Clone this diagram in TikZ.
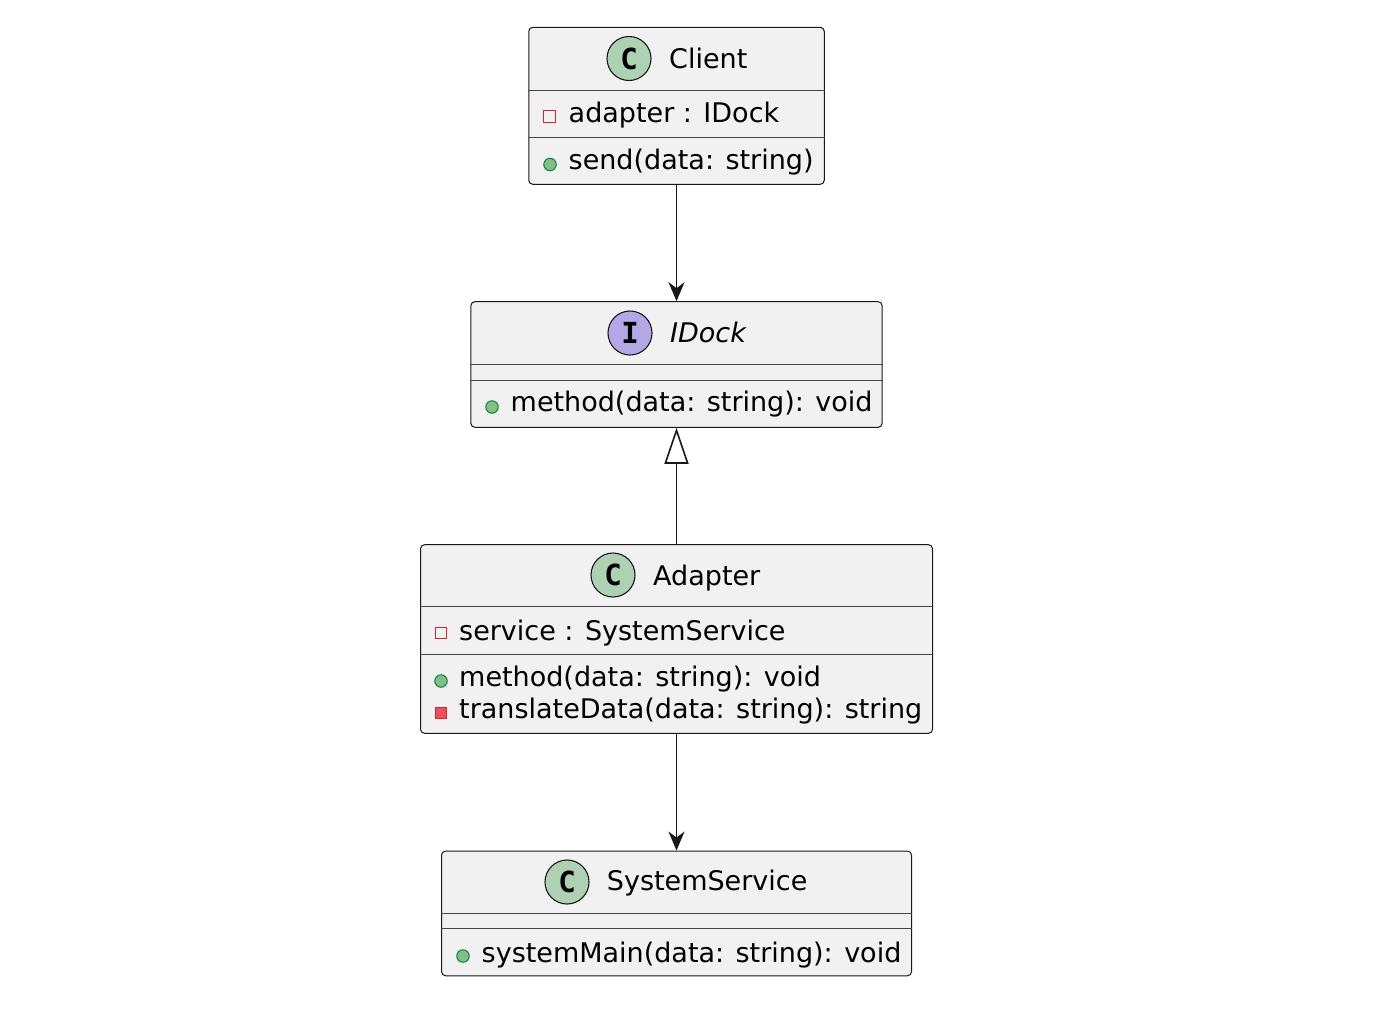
\documentclass[tikz,border=0pt]{standalone}
\usepackage{fontspec}
\setmainfont{DejaVu Sans}
\newfontfamily\spotfont{DejaVu Sans Mono}
\usepackage{xcolor}
\usetikzlibrary{arrows.meta}

\definecolor{boxfill}{HTML}{F1F1F1}
\definecolor{boxline}{HTML}{181818}
\definecolor{spotgreen}{HTML}{ADD1B2}
\definecolor{spotviolet}{HTML}{B4A7E5}
\definecolor{privline}{HTML}{C82930}
\definecolor{privfill}{HTML}{F24D5C}
\definecolor{publine}{HTML}{038048}
\definecolor{pubfill}{HTML}{84BE84}

\tikzset{
  umlbox/.style={draw=boxline, fill=boxfill, line width=1pt, rounded corners=4pt, inner sep=0pt},
  sepline/.style={draw=boxline!80, line width=0.9pt},
  spot/.style={circle, draw=boxline, line width=1.1pt, minimum size=44pt, inner sep=0pt,
    font=\spotfont\bfseries\fontsize{29}{29}\selectfont},
  umltext/.style={anchor=base west, inner sep=0pt, font=\fontsize{27}{30}\selectfont},
  pubdot/.style={circle, draw=publine, fill=pubfill, line width=1pt, minimum size=12.5pt, inner sep=0pt},
  privfield/.style={rectangle, draw=privline, line width=1.2pt, minimum size=11.5pt, inner sep=0pt},
  privmeth/.style={rectangle, draw=privline, fill=privfill, line width=1.2pt, minimum size=11.5pt, inner sep=0pt},
  assoc/.style={draw=boxline, line width=1.6pt, -{Stealth[length=19pt,width=16pt,inset=6pt]}},
  realize/.style={draw=boxline, line width=1.6pt, -{Triangle[length=36pt,width=24pt,fill=white]}}
}

\begin{document}
\begin{tikzpicture}[x=1pt,y=-1pt]
  \useasboundingbox (0,0) rectangle (1400,1029);

  % Client
  \node[umlbox, minimum width=295.5pt, minimum height=157pt] (client) at (676.5,105.8) {};
  \draw[sepline] (client.west |- 0,90) -- (client.east |- 0,90);
  \draw[sepline] (client.west |- 0,137.3) -- (client.east |- 0,137.3);
  \node[spot, fill=spotgreen] (clientspot) at (629,58.5) {C};
  \node[umltext] (clientname) at (669,68) {Client};
  \node[privfield] (clientf1) at (549.5,116.5) {};
  \node[umltext] (clientattr) at (568.5,122) {adapter : IDock};
  \node[pubdot] (clientm1) at (550,164.5) {};
  \node[umltext] (clientmeth) at (568.5,169) {send(data: string)};

  % IDock
  \node[umlbox, minimum width=411.3pt, minimum height=125.6pt] (idock) at (676.5,364.5) {};
  \draw[sepline] (idock.west |- 0,364.3) -- (idock.east |- 0,364.3);
  \draw[sepline] (idock.west |- 0,380.3) -- (idock.east |- 0,380.3);
  \node[spot, fill=spotviolet] (idockspot) at (630,333) {I};
  \node[umltext] (idockname) at (670,342.7) {\itshape IDock};
  \node[pubdot] (idockm1) at (492,407) {};
  \node[umltext] (idockmeth) at (510.5,411.7) {method(data: string): void};

  % Adapter
  \node[umlbox, minimum width=512pt, minimum height=188.6pt] (adapter) at (676.5,639) {};
  \draw[sepline] (adapter.west |- 0,606.7) -- (adapter.east |- 0,606.7);
  \draw[sepline] (adapter.west |- 0,654.3) -- (adapter.east |- 0,654.3);
  \node[spot, fill=spotgreen] (adapterspot) at (613,575) {C};
  \node[umltext] (adaptername) at (653,585) {Adapter};
  \node[privfield] (adapterf1) at (441,633) {};
  \node[umltext] (adapterattr) at (459,640) {service : SystemService};
  \node[pubdot] (adapterm1) at (441,681) {};
  \node[umltext] (adaptermeth) at (459,686.7) {method(data: string): void};
  \node[privmeth] (adapterm2) at (441,713) {};
  \node[umltext] (adaptertrans) at (459,718) {translateData(data: string): string};

  % SystemService
  \node[umlbox, minimum width=470pt, minimum height=124.7pt] (service) at (676.5,913.4) {};
  \draw[sepline] (service.west |- 0,913.3) -- (service.east |- 0,913.3);
  \draw[sepline] (service.west |- 0,928.3) -- (service.east |- 0,928.3);
  \node[spot, fill=spotgreen] (servicespot) at (567,882) {C};
  \node[umltext] (servicename) at (606.7,890.7) {SystemService};
  \node[pubdot] (servicem1) at (463,956) {};
  \node[umltext] (servicemeth) at (481.5,962) {systemMain(data: string): void};

  % relations
  \draw[assoc] (client.south) -- (idock.north);
  \draw[realize] (adapter.north) -- (idock.south);
  \draw[assoc] (adapter.south) -- (service.north);
\end{tikzpicture}
\end{document}
